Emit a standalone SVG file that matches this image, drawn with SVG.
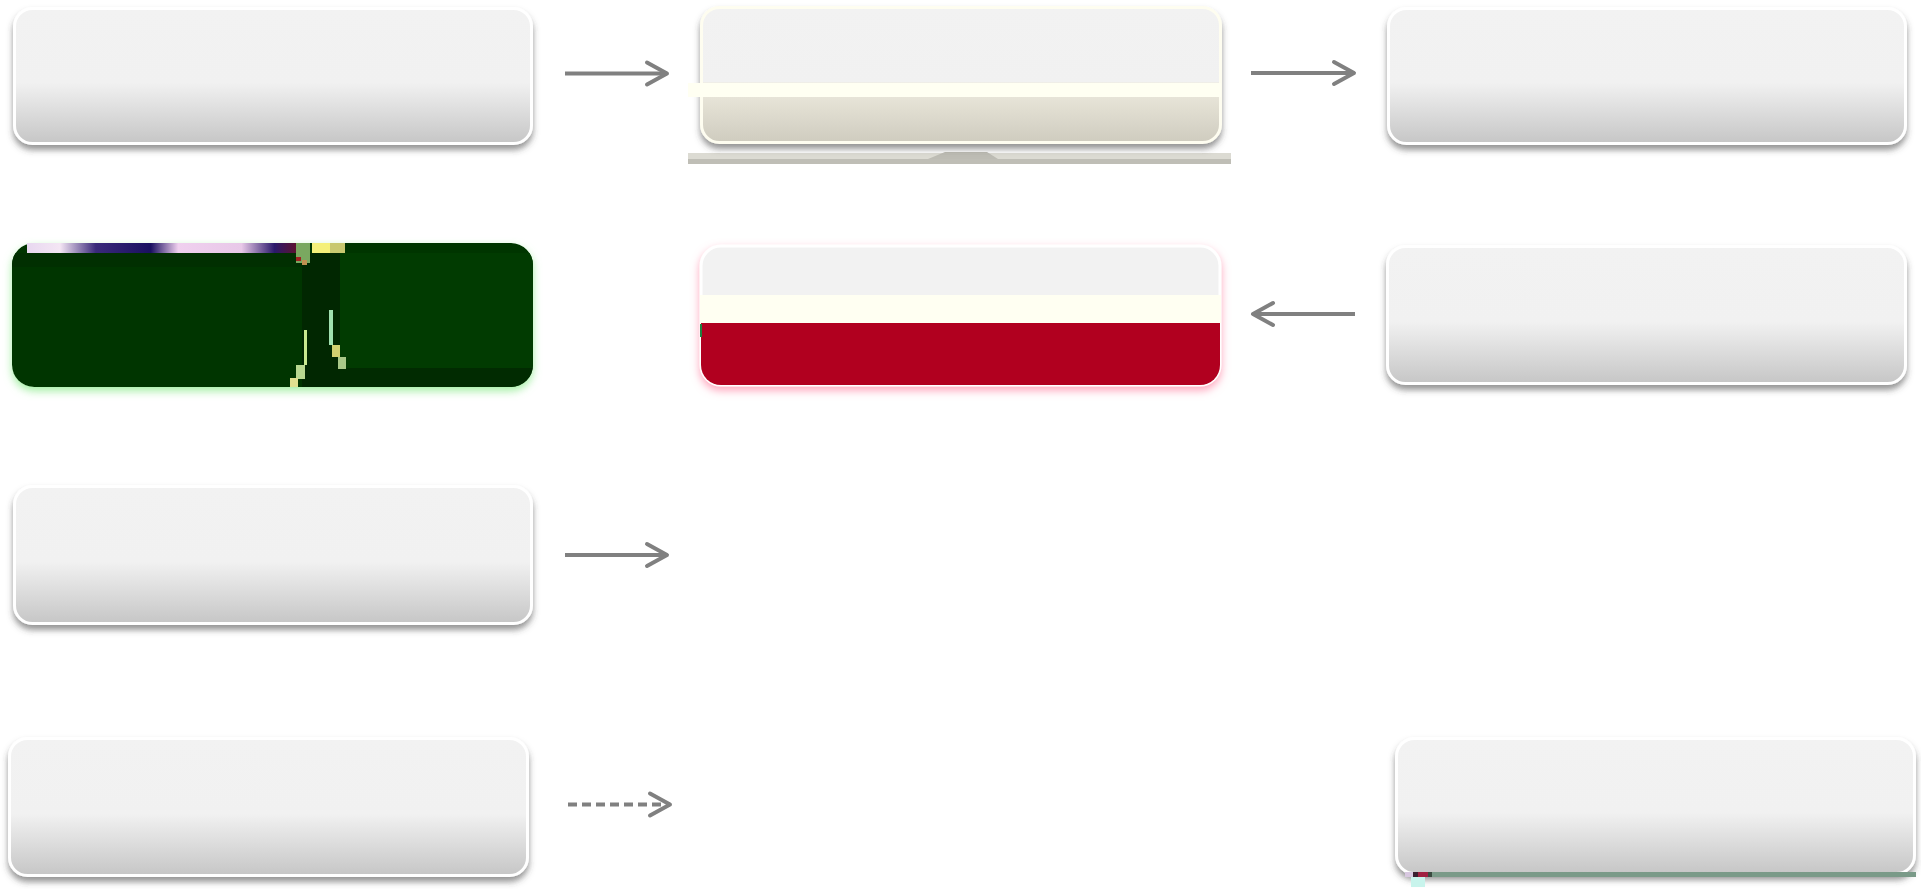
<svg xmlns="http://www.w3.org/2000/svg" width="1921" height="889" viewBox="0 0 1921 889">
<defs>
<linearGradient id="gGrey" x1="0" y1="0" x2="0" y2="1">
<stop offset="0" stop-color="#f2f2f2"/><stop offset="0.55" stop-color="#f1f1f1"/><stop offset="1" stop-color="#c6c6c6"/>
</linearGradient>
<linearGradient id="gBeige" x1="0" y1="0" x2="0" y2="1">
<stop offset="0" stop-color="#f2f2f2"/><stop offset="0.55" stop-color="#f1f1f1"/><stop offset="0.56" stop-color="#eeebdf"/><stop offset="1" stop-color="#cfccbf"/>
</linearGradient>
<linearGradient id="gNoise" x1="0" y1="0" x2="1" y2="0">
<stop offset="0" stop-color="#e8d8f0"/><stop offset="0.12" stop-color="#f4e6f4"/><stop offset="0.25" stop-color="#3a2a7a"/><stop offset="0.45" stop-color="#1a1060"/><stop offset="0.55" stop-color="#f0d0ef"/><stop offset="0.78" stop-color="#e8c8e8"/><stop offset="0.9" stop-color="#2a1a6a"/><stop offset="1" stop-color="#6a1020"/>
</linearGradient>
<filter id="shadow" x="-5%" y="-10%" width="110%" height="130%">
<feDropShadow dx="0" dy="5" stdDeviation="3" flood-color="#404040" flood-opacity="0.55"/>
</filter>
<filter id="glowG" x="-5%" y="-10%" width="110%" height="130%">
<feDropShadow dx="0" dy="4" stdDeviation="4" flood-color="#7ee87e" flood-opacity="0.7"/>
</filter>
<filter id="glowR" x="-5%" y="-10%" width="110%" height="130%">
<feDropShadow dx="0" dy="4" stdDeviation="4" flood-color="#ff7fa0" flood-opacity="0.7"/>
</filter>
<marker id="arrow" markerUnits="userSpaceOnUse" markerWidth="30" markerHeight="30" viewBox="-24 -15 30 30" refX="0" refY="0" orient="auto">
<path d="M -20 -11 L 0 0 L -20 11" fill="none" stroke="#808080" stroke-width="4" stroke-linecap="round" stroke-linejoin="round"/>
</marker>
<clipPath id="clipN5"><rect x="701" y="246" width="519" height="139" rx="20"/></clipPath>
<clipPath id="clipN4"><rect x="12" y="243" width="521" height="144" rx="22"/></clipPath>
</defs>
<style>
.box{fill:url(#gGrey);stroke:#ffffff;stroke-width:3;filter:url(#shadow)}
.conn{fill:none;stroke:#808080;stroke-width:4;marker-end:url(#arrow)}
</style>
<rect width="1921" height="889" fill="#ffffff"/>

<g id="node1"><rect class="box" x="14.5" y="8.5" width="517" height="135" rx="18"/></g>

<g id="node2">
<rect x="688" y="153" width="543" height="6" fill="#dcdbd3"/>
<rect x="688" y="159" width="543" height="5" fill="#bfbeb6"/>
<path d="M 928 159 L 945 152 L 987 152 L 998 159 Z" fill="#bdbcb4"/>
<rect x="701.5" y="7.5" width="519" height="135" rx="18" fill="url(#gBeige)" stroke="#fefdf0" stroke-width="3" filter="url(#shadow)"/>
<rect x="688" y="83" width="533" height="14" fill="#fffff2"/>
</g>

<g id="node3"><rect class="box" x="1388.5" y="8.5" width="517" height="135" rx="18"/></g>

<g id="node4">
<rect x="12" y="243" width="521" height="144" rx="22" fill="#013501" filter="url(#glowG)"/>
<g clip-path="url(#clipN4)">
<rect x="12" y="253" width="300" height="14" fill="#012f01"/>
<rect x="302" y="253" width="38" height="134" fill="#012701"/>
<rect x="340" y="253" width="193" height="115" fill="#013b01"/>
<rect x="340" y="368" width="193" height="19" fill="#012b01"/>
</g>
<rect x="27" y="243" width="275" height="10" fill="url(#gNoise)"/>
<rect x="312" y="243" width="20" height="10" fill="#f5f07a"/>
<rect x="330" y="243" width="15" height="10" fill="#c8c870"/>
<rect x="296" y="243" width="14" height="20" fill="#7aa860"/>
<rect x="296" y="257" width="5" height="4" fill="#a02020"/>
<rect x="302" y="260" width="5" height="5" fill="#c09050"/>
<rect x="304" y="330" width="3" height="35" fill="#c8e890"/>
<rect x="329" y="310" width="4" height="35" fill="#a0e0b0"/>
<rect x="332" y="345" width="8" height="12" fill="#d0d070"/>
<rect x="338" y="357" width="8" height="12" fill="#a8c888"/>
<rect x="296" y="365" width="9" height="14" fill="#b8d890"/>
<rect x="290" y="378" width="8" height="9" fill="#e0e090"/>
</g>

<g id="node5">
<rect x="701" y="246" width="519" height="139" rx="20" fill="#f2f2f2" stroke="#ffffff" stroke-width="3" filter="url(#glowR)"/>
<g clip-path="url(#clipN5)">
<rect x="701" y="323" width="519" height="62" fill="#b1001f"/>
</g>
<rect x="700" y="295" width="521" height="28" fill="#fffff2"/>
<rect x="700" y="324" width="2" height="13" fill="#208040"/>
</g>

<g id="node6"><rect class="box" x="1387.5" y="246.5" width="518" height="137" rx="18"/></g>

<g id="node7"><rect class="box" x="14.5" y="486.5" width="517" height="137" rx="18"/></g>

<g id="node8"><rect class="box" x="9.5" y="738.5" width="518" height="137" rx="18"/></g>

<g id="node9">
<rect class="box" x="1396.5" y="738.5" width="518" height="135" rx="18"/>
<rect x="1432" y="872" width="484" height="5" fill="#7a9a88"/>
<rect x="1405" y="872" width="8" height="5" fill="#d8c8e0"/>
<rect x="1413" y="872" width="5" height="5" fill="#3a2030"/>
<rect x="1418" y="872" width="10" height="5" fill="#a02040"/>
<rect x="1428" y="872" width="4" height="5" fill="#3a4a40"/>
<rect x="1411" y="877" width="14" height="10" fill="#c8f4ec"/>
</g>

<g id="connectors">
<line class="conn" x1="565" y1="73.5" x2="667" y2="73.5"/>
<line class="conn" x1="1251" y1="73" x2="1354" y2="73"/>
<line class="conn" x1="1355" y1="314" x2="1253" y2="314"/>
<line class="conn" x1="565" y1="555" x2="667" y2="555"/>
<line class="conn" x1="568" y1="804.5" x2="670" y2="804.5" stroke-dasharray="9 5"/>
</g>
</svg>
